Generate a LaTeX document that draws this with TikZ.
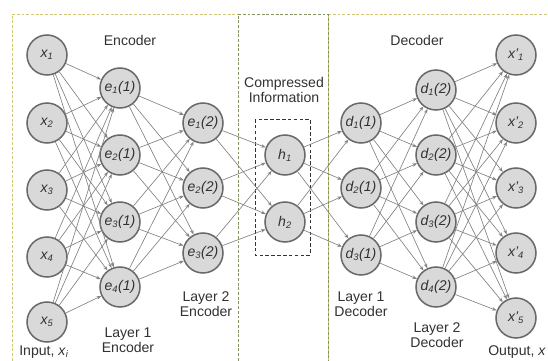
\documentclass[tikz,border=0pt]{standalone}
\usepackage{fontspec}
\setmainfont{Liberation Sans}
\usetikzlibrary{arrows.meta}

\definecolor{boxyellow}{RGB}{210,198,120}
\definecolor{boxgreen}{RGB}{130,148,100}
\definecolor{nodefill}{RGB}{217,217,217}
\definecolor{nodeline}{RGB}{105,105,105}
\definecolor{linkgray}{RGB}{130,130,130}
\definecolor{textgray}{RGB}{50,50,50}

\begin{document}
\begin{tikzpicture}[
    x=0.03cm, y=-0.03cm,
    font=\fontsize{12}{12.8}\selectfont, text=textgray,
    neuron/.style={circle, draw=nodeline, fill=nodefill, line width=1.3pt,
      minimum size=1.2cm, inner sep=0pt, font=\fontsize{12}{12.8}\selectfont\itshape},
    link/.style={-{Stealth[length=4pt,width=3pt]}, draw=linkgray, line width=0.55pt},
    caption/.style={align=center},
    part/.style={line width=0.8pt, dash pattern=on 2.5pt off 1.5pt}
  ]
    \clip (0,0) rectangle (548,361);
    \fill[white] (0,0) rectangle (548,361);

    % encoder / middle / decoder frames
    \draw[part, draw=boxyellow] (12,370) -- (12,14) -- (238,14);
    \draw[part, draw=boxyellow] (328,370) -- (328,14) -- (560,14);
    \draw[part, draw=boxgreen] (238,370) -- (238,14) -- (328,14) -- (328,370);

    % layers
    \foreach \y [count=\i] in {55,123,190,257,322}
      \node[neuron] (in\i) at (47,\y) {x\textsubscript{\i}};
    \foreach \y [count=\i] in {88,155,222,287}
      \node[neuron] (ea\i) at (120,\y) {e\textsubscript{\i}(1)};
    \foreach \y [count=\i] in {123,188,253}
      \node[neuron] (eb\i) at (203,\y) {e\textsubscript{\i}(2)};
    \foreach \y [count=\i] in {155,222}
      \node[neuron] (h\i) at (285,\y) {h\textsubscript{\i}};
    \foreach \y [count=\i] in {123,188,255}
      \node[neuron] (da\i) at (361,\y) {d\textsubscript{\i}(1)};
    \foreach \y [count=\i] in {90,155,222,287}
      \node[neuron] (db\i) at (436,\y) {d\textsubscript{\i}(2)};
    \foreach \y [count=\i] in {55,123,188,253,318}
      \node[neuron] (out\i) at (516,\y) {x'\textsubscript{\i}};

    % bottleneck box
    \draw[black!80, line width=0.6pt, dash pattern=on 3pt off 2pt] (255,119) rectangle (310,255);

    % fully connected links
    \foreach \i in {1,...,5} \foreach \j in {1,...,4} \draw[link] (in\i) -- (ea\j);
    \foreach \i in {1,...,4} \foreach \j in {1,...,3} \draw[link] (ea\i) -- (eb\j);
    \foreach \i in {1,...,3} \foreach \j in {1,2} \draw[link] (eb\i) -- (h\j);
    \foreach \i in {1,2} \foreach \j in {1,...,3} \draw[link] (h\i) -- (da\j);
    \foreach \i in {1,...,3} \foreach \j in {1,...,4} \draw[link] (da\i) -- (db\j);
    \foreach \i in {1,...,4} \foreach \j in {1,...,5} \draw[link] (db\i) -- (out\j);

    % captions
    \node[caption] (enc) at (130,40) {Encoder};
    \node[caption] (dec) at (417,40) {Decoder};
    \node[caption] (comp) at (284,90) {Compressed\\Information};
    \node[caption] (lay1e) at (128,340) {Layer 1\\Encoder};
    \node[caption] (lay2e) at (206,304) {Layer 2\\Encoder};
    \node[caption] (lay1d) at (361,304) {Layer 1\\Decoder};
    \node[caption] (lay2d) at (437,335) {Layer 2\\Decoder};
    \node[caption] (input) at (44,352) {Input, \textit{x}\textsubscript{\textit{i}}};
    \node[caption, anchor=east, inner sep=0pt] (output) at (546,352) {Output, \textit{x}};
  \end{tikzpicture}
\end{document}
